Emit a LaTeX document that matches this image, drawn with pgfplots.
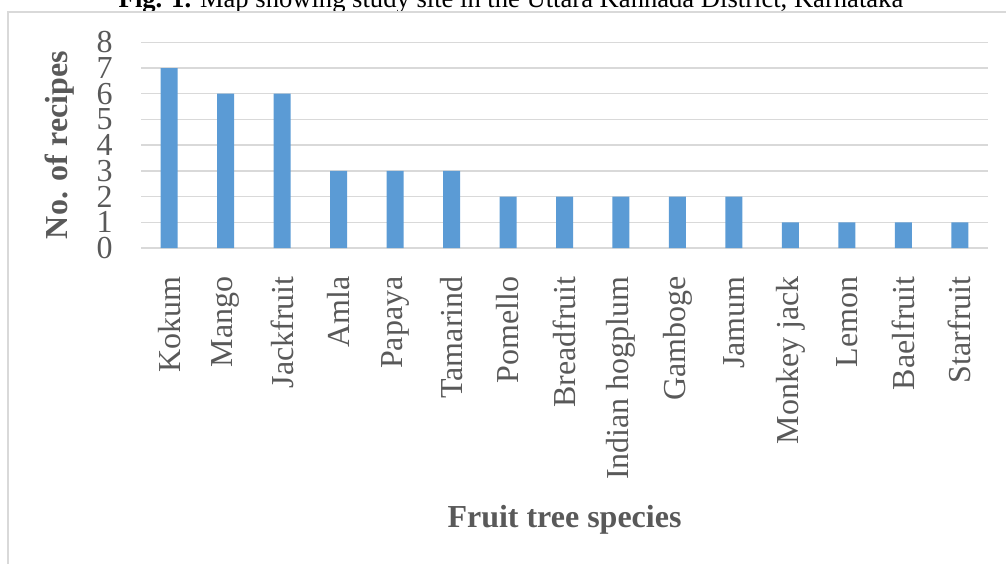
\documentclass[border=0pt]{standalone}
\usepackage{pgfplots}
\pgfplotsset{compat=1.18}
\usepackage{fontspec}
\setmainfont{Liberation Serif}
\definecolor{barblue}{HTML}{5B9BD5}
\definecolor{gridgray}{HTML}{D9D9D9}
\definecolor{textgray}{HTML}{595959}

\begin{document}
\begin{tikzpicture}[x=0.5pt,y=0.5pt]
% page frame (1 unit = 0.5pt)
\useasboundingbox (0,0) rectangle (1006,563);
% caption line above the chart
\node[anchor=base, inner sep=0pt, font=\fontsize{13.3}{14}\selectfont] at (511,555)
  {\textbf{Fig. 1.} Map showing study site in the Uttara Kannada District, Karnataka};
% chart area border
\draw[gridgray, line width=1pt] (8,-20) -- (8,551) -- (1030,551);

\begin{axis}[
  at={(70.5pt,157.5pt)}, anchor=south west,
  scale only axis,
  width=423.5pt, height=102.85pt,
  ymin=0, ymax=8,
  xmin=-0.5, xmax=14.5,
  axis line style={draw=none},
  major tick length=0pt,
  ytick={0,...,8},
  yticklabels={0,1,2,3,4,5,6,7,8},
  ymajorgrids,
  grid style={gridgray, line width=0.75pt},
  xtick={0,...,14},
  xticklabels={Kokum,Mango,Jackfruit,Amla,Papaya,Tamarind,Pomello,Breadfruit,Indian hogplum,Gamboge,Jamum,Monkey jack,Lemon,Baelfruit,Starfruit},
  ticklabel style={font=\fontsize{16}{16}\selectfont, text=textgray},
  yticklabel style={anchor=east, inner xsep=14pt, inner ysep=0pt},
  xticklabel style={rotate=90, anchor=east, inner xsep=14pt, inner ysep=0pt},
  ylabel={No. of recipes},
  ylabel style={at={(rel axis cs:0,0.5)}, anchor=center, yshift=40.5pt,
    font=\fontsize{16}{16}\selectfont\bfseries, text=textgray},
  xlabel={Fruit tree species},
  xlabel style={at={(rel axis cs:0.5,0)}, anchor=center, yshift=-136pt,
    font=\fontsize{16}{16}\selectfont\bfseries, text=textgray},
  clip=false,
]
\addplot[ybar, bar width=8.5pt, fill=barblue, draw=none] coordinates {
  (0,7) (1,6) (2,6) (3,3) (4,3) (5,3) (6,2) (7,2) (8,2) (9,2) (10,2) (11,1) (12,1) (13,1) (14,1)
};
\end{axis}
\end{tikzpicture}
\end{document}
